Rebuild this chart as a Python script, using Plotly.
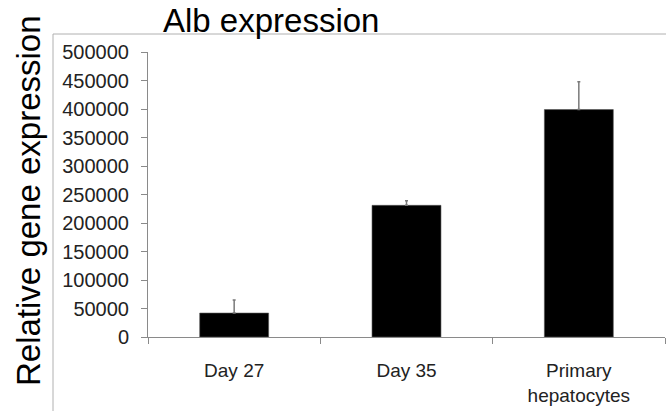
import plotly.graph_objects as go

categories = ["Day 27", "Day 35", "Primary<br>hepatocytes"]
values = [42000, 231000, 399000]
errors_up = [23000, 8000, 49000]
errors_down = [0, 0, 0]
y_tickvals = [0, 50000, 100000, 150000, 200000, 250000, 300000, 350000, 400000, 450000, 500000]

FONT = "Liberation Sans, Arial, Helvetica, sans-serif"
W, H = 666, 411
ML, MR, MT, MB = 148, 1, 52, 74
PW, PH = W - ML - MR, H - MT - MB

def px_x(px):
    return (px - ML) / PW

def px_y(py):
    return (H - MB - py) / PH

fig = go.Figure()
fig.add_trace(go.Bar(
    x=categories, y=values,
    marker=dict(color="#000000", line=dict(color="#555555", width=0.6)),
    error_y=dict(type="data", symmetric=False, array=errors_up, arrayminus=errors_down,
                 color="#7a7a7a", thickness=1.5, width=1.5),
    width=0.4,
))

fig.update_layout(
    width=W, height=H,
    margin=dict(l=ML, r=MR, t=MT, b=MB),
    paper_bgcolor="white", plot_bgcolor="white",
    showlegend=False,
    font=dict(family=FONT, color="#222222", size=20),
    xaxis=dict(
        type="category", showline=True, linecolor="#8a8a8a", linewidth=1,
        ticks="outside", tickson="boundaries", ticklen=6, tickcolor="#8a8a8a",
        tickfont=dict(size=19, color="#222222"), showgrid=False, zeroline=False,
        range=[-0.5, 2.5], ticklabelstandoff=16,
    ),
    yaxis=dict(
        range=[0, 500000], tickvals=y_tickvals, tickformat="d",
        showline=True, linecolor="#8a8a8a", linewidth=1,
        ticks="outside", ticklen=6, tickcolor="#8a8a8a",
        tickfont=dict(size=20, color="#222222"), showgrid=False, zeroline=False,
        ticklabelstandoff=8,
    ),
    shapes=[
        dict(type="line", xref="paper", yref="paper",
             x0=px_x(53), x1=px_x(700), y0=px_y(34), y1=px_y(34),
             line=dict(color="#b0b0b0", width=1)),
        dict(type="line", xref="paper", yref="paper",
             x0=px_x(53), x1=px_x(53), y0=px_y(34), y1=px_y(430),
             line=dict(color="#b0b0b0", width=1)),
    ],
    annotations=[
        dict(text="Alb expression", xref="paper", yref="paper",
             x=px_x(161), y=px_y(41), xanchor="left", yanchor="bottom",
             showarrow=False, font=dict(size=33, color="#000000", family=FONT)),
        dict(text="Relative gene expression", xref="paper", yref="paper",
             x=px_x(28), y=px_y(201), xanchor="center", yanchor="middle",
             textangle=-90, showarrow=False,
             font=dict(size=33, color="#000000", family=FONT)),
    ],
)

fig.write_html("out.html")
